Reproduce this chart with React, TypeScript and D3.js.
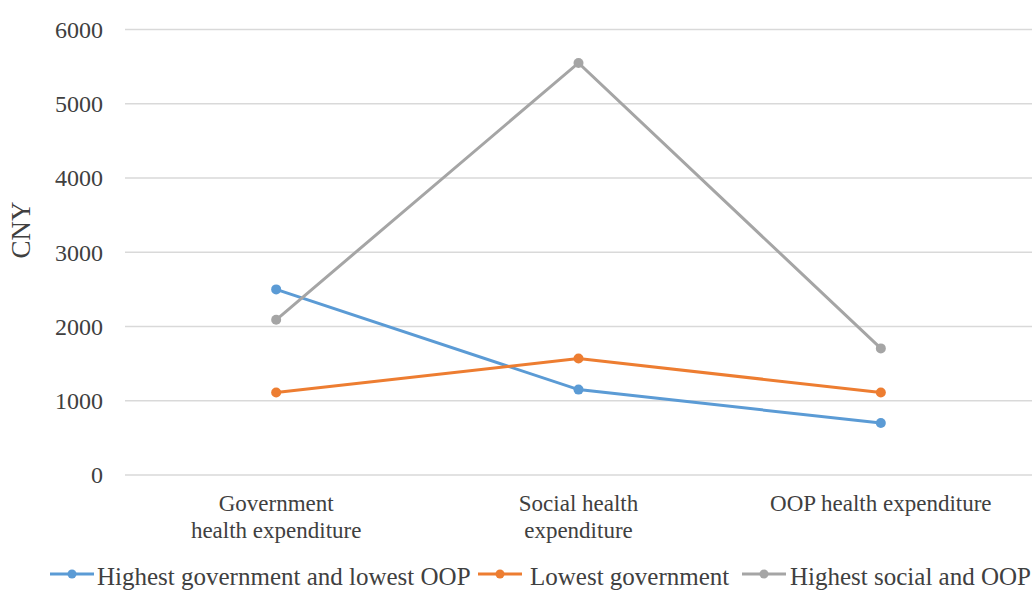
import React from "react";
import * as d3 from "d3";

const categories: string[][] = [
  ["Government", "health expenditure"],
  ["Social health", "expenditure"],
  ["OOP health expenditure"],
];
const seriesNames = [
  "Highest government and lowest OOP",
  "Lowest government",
  "Highest social and OOP",
];
const seriesColors = ["#5B9BD5", "#ED7D31", "#A5A5A5"];
const highestGovLowestOOP = [2500, 1150, 700];
const lowestGov = [1110, 1570, 1110];
const highestSocialOOP = [2090, 5550, 1705];
const yTicks = [0, 1000, 2000, 3000, 4000, 5000, 6000];

const W = 1034;
const H = 596;
const FONT = "Liberation Serif, Tinos, Times New Roman, DejaVu Serif, serif";
const TEXT = "#404040";

export default function App() {
  const allSeries = [highestGovLowestOOP, lowestGov, highestSocialOOP];
  const x = d3.scaleBand<number>().domain([0, 1, 2]).range([125, 1032]);
  const y = d3.scaleLinear().domain([0, 6000]).range([475, 29.5]);
  const cx = (i: number) => (x(i) as number) + x.bandwidth() / 2;
  const line = d3
    .line<number>()
    .x((_, i) => cx(i))
    .y((d) => y(d));

  const legendItems = [
    { lx: 50, tx: 97 },
    { lx: 478, tx: 530 },
    { lx: 742, tx: 790 },
  ];

  return (
    <svg
      width={W}
      height={H}
      style={{ position: "absolute", left: 0, top: 0, background: "#fff", fontFamily: FONT }}
    >
      {yTicks.map((t) => (
        <g key={t}>
          <line x1={125} x2={1032} y1={y(t)} y2={y(t)} stroke="#D9D9D9" strokeWidth={1.3} />
          <text x={103} y={y(t)} dy="0.35em" textAnchor="end" fontSize={24} fill={TEXT} style={{ fontFamily: FONT }}>
            {t}
          </text>
        </g>
      ))}
      <text
        transform={`translate(30,230) rotate(-90)`}
        textAnchor="middle"
        fontSize={27}
        fill={TEXT}
        style={{ fontFamily: FONT }}
      >
        CNY
      </text>
      {categories.map((lines, i) => (
        <text key={i} x={cx(i)} y={511} textAnchor="middle" fontSize={23} fill={TEXT} style={{ fontFamily: FONT }}>
          {lines.map((l, j) => (
            <tspan key={j} x={cx(i)} y={511 + j * 27}>
              {l}
            </tspan>
          ))}
        </text>
      ))}
      {allSeries.map((s, si) => (
        <g key={si}>
          <path d={line(s) || ""} fill="none" stroke={seriesColors[si]} strokeWidth={3} />
          {s.map((v, i) => (
            <circle key={i} cx={cx(i)} cy={y(v)} r={5} fill={seriesColors[si]} />
          ))}
        </g>
      ))}
      {legendItems.map((it, i) => (
        <g key={i}>
          <line x1={it.lx} x2={it.lx + 44} y1={574} y2={574} stroke={seriesColors[i]} strokeWidth={3} />
          <circle cx={it.lx + 22} cy={574} r={4.5} fill={seriesColors[i]} />
          <text x={it.tx} y={585} fontSize={25} fill={TEXT} style={{ fontFamily: FONT }}>
            {seriesNames[i]}
          </text>
        </g>
      ))}
    </svg>
  );
}
